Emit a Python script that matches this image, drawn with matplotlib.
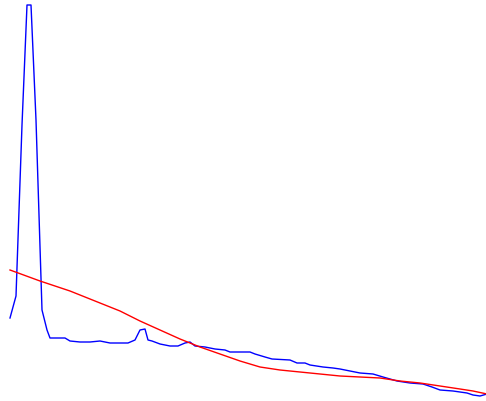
import matplotlib
matplotlib.use("Agg")
import matplotlib.pyplot as plt

# Sampled series (x position, level)
blue_x = [10, 16, 22, 27, 31, 36, 42, 47, 50, 58, 65, 70, 80, 90, 100, 110, 120, 128,
          135, 140, 145, 148, 152, 160, 170, 178, 185, 190, 195, 205, 215, 225, 230,
          240, 250, 255, 265, 272, 290, 297, 305, 310, 323, 333, 340, 350, 360, 373,
          383, 397, 410, 423, 432, 440, 453, 467, 473, 480, 487]
blue_y = [83, 105, 276, 396, 396, 281, 91, 71, 63, 63, 63, 60, 59, 59, 60, 58, 58, 58,
          61, 71, 72, 61, 60, 57, 55, 55, 58, 59, 55, 54, 52, 51, 49,
          49, 49, 47, 44, 42, 41, 38, 38, 36, 34, 33, 32, 30, 28, 27,
          24, 20, 18, 17, 14, 11, 10, 8, 6, 5, 7]

red_x = [10, 40, 70, 100, 120, 140, 160, 180, 200, 220, 240, 260, 280, 300, 320,
         340, 360, 380, 400, 420, 440, 460, 473, 487]
red_y = [131, 120, 110, 98, 90, 80, 71, 62, 54, 47, 40, 34, 31, 29, 27,
         25, 24, 23, 20, 18, 15, 12, 10, 7]

fig = plt.figure(figsize=(4.86, 4.01), dpi=100)
ax = fig.add_axes([0, 0, 1, 1])
ax.plot(blue_x, blue_y, color="#0000ff", lw=1.0)
ax.plot(red_x, red_y, color="#ff0000", lw=1.0)
ax.set_xlim(0, 486)
ax.set_ylim(0, 401)
ax.axis("off")
fig.savefig("out.png", dpi=100)
